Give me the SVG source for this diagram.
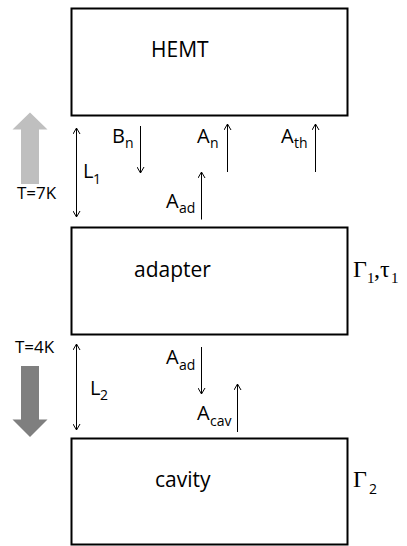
<svg xmlns="http://www.w3.org/2000/svg" width="407" height="546" viewBox="0 0 407 546">
<style>
.box{fill:#fff;stroke:#000;stroke-width:2}
.lbl{font-family:"Open Sans","Liberation Sans",sans-serif;fill:#000}
.big{font-size:21px}
.mid{font-size:20px}
.sub{font-size:14px}
.tk{font-size:17px}
.ser{font-family:"Liberation Serif","DejaVu Serif",serif;fill:#000}
.con{stroke:#000;stroke-width:1;fill:none}
</style>
<defs>
<marker id="ah" markerWidth="8" markerHeight="8" refX="7" refY="4" orient="auto-start-reverse" markerUnits="userSpaceOnUse">
<path d="M1,0.5 L7,4 L1,7.5" fill="none" stroke="#000" stroke-width="1"/>
</marker>
</defs>
<rect width="407" height="546" fill="#fff"/>
<g id="hemt">
<rect class="box" x="71.5" y="8.5" width="276" height="107"/>
<text class="lbl big" x="151" y="57">HEMT</text>
</g>
<g id="adapter">
<rect class="box" x="71.5" y="227.5" width="276" height="107"/>
<text class="lbl big" x="134" y="277">adapter</text>
<text class="ser" x="353" y="277" font-size="24">Γ<tspan x="367" y="283" font-size="15">1</tspan><tspan x="374" y="277">,</tspan><tspan x="380" y="277">τ</tspan><tspan x="391" y="283" font-size="15">1</tspan></text>
</g>
<g id="cavity">
<rect class="box" x="71.5" y="438.5" width="276" height="106"/>
<text class="lbl big" x="155" y="487">cavity</text>
<text class="ser" x="353" y="487" font-size="24">Γ</text>
<text class="lbl sub" x="369" y="494">2</text>
</g>
<g id="temp-up">
<polygon points="30,112.5 47.5,129.5 39,129.5 39,184 21,184 21,129.5 12.5,129.5" fill="#bfbfbf"/>
<text class="lbl tk" x="17" y="199">T=7K</text>
</g>
<g id="temp-down">
<polygon points="21,366 39,366 39,419.5 47.5,419.5 30,437 12.5,419.5 21,419.5" fill="#7f7f7f"/>
<text class="lbl tk" x="15" y="353">T=4K</text>
</g>
<g id="connectors">
<line class="con" x1="76.5" y1="128" x2="76.5" y2="217" marker-start="url(#ah)" marker-end="url(#ah)"/>
<line class="con" x1="140.5" y1="126" x2="140.5" y2="173" marker-end="url(#ah)"/>
<line class="con" x1="227.5" y1="172" x2="227.5" y2="124" marker-end="url(#ah)"/>
<line class="con" x1="315.5" y1="172" x2="315.5" y2="124" marker-end="url(#ah)"/>
<line class="con" x1="201.5" y1="219.5" x2="201.5" y2="172" marker-end="url(#ah)"/>
<line class="con" x1="76.5" y1="344" x2="76.5" y2="430" marker-start="url(#ah)" marker-end="url(#ah)"/>
<line class="con" x1="201.5" y1="347" x2="201.5" y2="394" marker-end="url(#ah)"/>
<line class="con" x1="237.5" y1="432" x2="237.5" y2="384" marker-end="url(#ah)"/>
</g>
<g id="labels">
<text class="lbl mid" x="83" y="178">L<tspan class="sub" x="93" y="184">1</tspan></text>
<text class="lbl mid" x="112" y="143">B<tspan class="sub" x="125" y="148">n</tspan></text>
<text class="lbl mid" x="197" y="143">A<tspan class="sub" x="210" y="148">n</tspan></text>
<text class="lbl mid" x="281" y="143">A<tspan class="sub" x="294" y="148">th</tspan></text>
<text class="lbl mid" x="166" y="208">A<tspan class="sub" x="179" y="213">ad</tspan></text>
<text class="lbl mid" x="90" y="395">L<tspan class="sub" x="100" y="400">2</tspan></text>
<text class="lbl mid" x="166" y="364">A<tspan class="sub" x="179" y="370">ad</tspan></text>
<text class="lbl mid" x="197" y="420">A<tspan class="sub" x="210" y="426">cav</tspan></text>
</g>
</svg>
